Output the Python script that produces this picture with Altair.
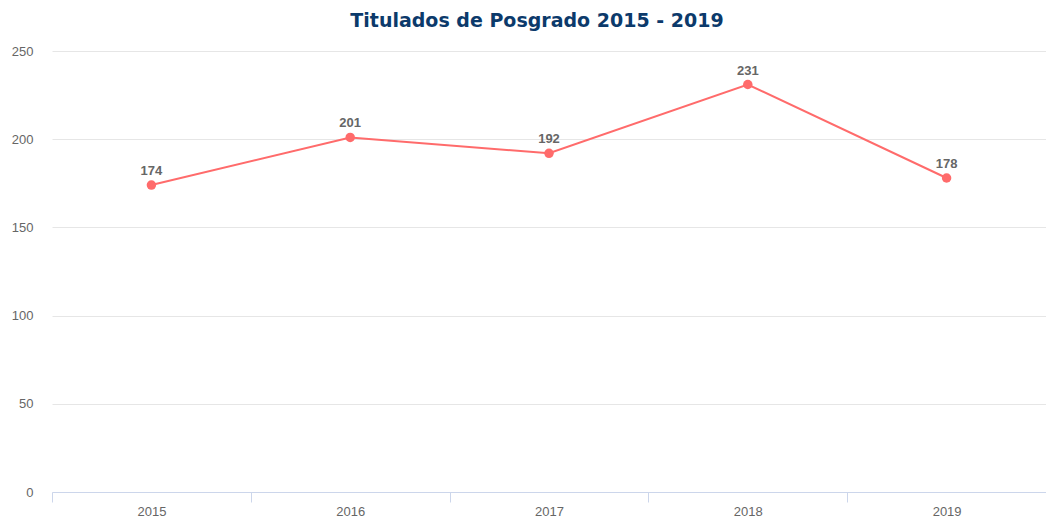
import altair as alt
import pandas as pd

years = ["2015", "2016", "2017", "2018", "2019"]
values = [174, 201, 192, 231, 178]

df = pd.DataFrame({"year": years, "value": values})

LINE = "#ff6b6b"
FONT = "Liberation Sans"

x = alt.X("year:N", sort=years, title=None,
          scale=alt.Scale(paddingInner=0, paddingOuter=0),
          axis=alt.Axis(labelAngle=0, labelColor="#666666", labelFontSize=13, labelFont=FONT,
                        domainColor="#ccd6eb", tickColor="#ccd6eb", tickSize=10,
                        tickBand="extent", labelPadding=3, grid=False))
y = alt.Y("value:Q", title=None,
          scale=alt.Scale(domain=[0, 250], nice=False),
          axis=alt.Axis(values=[0, 50, 100, 150, 200, 250], labelColor="#666666",
                        labelFontSize=13, labelFont=FONT, domain=False, ticks=False,
                        labelPadding=19, gridColor="#e6e6e6", gridWidth=1))

base = alt.Chart(df).encode(x=x, y=y)

line = base.mark_line(color=LINE, strokeWidth=2)
pts = base.mark_point(filled=True, color=LINE, size=90, opacity=1)
labels = base.mark_text(dy=-14, fontWeight="bold", fontSize=13, color="#666666", font=FONT).encode(text="value:Q")

chart = (line + pts + labels).properties(
    width=994, height=441,
    title=alt.TitleParams("Titulados de Posgrado 2015 - 2019", font="DejaVu Sans", fontSize=19,
                          fontWeight="bold", color="#0c3a6b", anchor="middle", offset=14, dx=-12),
    autosize=alt.AutoSizeParams(type="none"),
    padding={"left": 44, "top": 43, "right": 0, "bottom": 26},
).configure_view(stroke=None)

chart.save("out.html", embed_options={"renderer": "svg", "actions": False})
